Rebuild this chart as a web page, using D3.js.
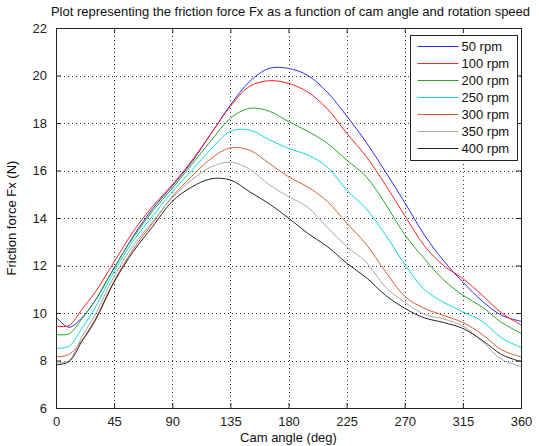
<!DOCTYPE html>
<html>
<head>
<meta charset="UTF-8">
<script src="https://cdn.jsdelivr.net/npm/d3@7"></script>
<style>
  body { margin: 0; background: #fff; }
  svg { font-family: "Liberation Sans", Arial, sans-serif; }
</style>
</head>
<body>
<div id="chart"></div>
<script>
const angles = [0, 10, 20, 30, 45, 60, 75, 90, 105, 120, 135, 150, 165, 180, 195, 210, 225, 240, 255, 270, 285, 300, 315, 330, 345, 360];
const speeds = ['50 rpm', '100 rpm', '200 rpm', '250 rpm', '300 rpm', '350 rpm', '400 rpm'];
const colors = ['#2b2bff', '#ff2020', '#22a822', '#10d8dc', '#d8602c', '#a8a8a8', '#262626'];
const rpm50  = [9.84, 9.4, 9.8, 10.5, 11.9, 13.25, 14.4, 15.35, 16.35, 17.55, 18.75, 19.75, 20.3, 20.3, 20.0, 19.3, 18.3, 17.2, 15.95, 14.65, 13.3, 12.2, 11.3, 10.5, 9.9, 9.65];
const rpm100 = [9.45, 9.47, 10.15, 10.85, 12.15, 13.45, 14.5, 15.4, 16.4, 17.55, 18.7, 19.55, 19.78, 19.67, 19.3, 18.6, 17.57, 16.6, 15.4, 14.1, 12.85, 12.0, 11.45, 10.75, 10.0, 9.5];
const rpm200 = [9.1, 9.12, 9.75, 10.5, 11.9, 13.2, 14.3, 15.25, 16.25, 17.25, 18.2, 18.62, 18.5, 18.06, 17.65, 17.15, 16.44, 15.75, 14.6, 13.3, 12.3, 11.4, 10.75, 10.25, 9.6, 9.15];
const rpm250 = [8.51, 8.6, 9.35, 10.2, 11.75, 13.05, 14.1, 15.1, 16.0, 16.9, 17.65, 17.7, 17.3, 16.93, 16.65, 16.15, 15.18, 14.4, 13.3, 12.05, 11.0, 10.45, 10.05, 9.65, 8.95, 8.55];
const rpm300 = [8.16, 8.25, 8.85, 9.7, 11.35, 12.7, 13.8, 14.9, 15.75, 16.5, 16.95, 16.85, 16.3, 15.74, 15.3, 14.7, 13.79, 12.9, 11.75, 10.7, 10.2, 9.9, 9.6, 9.1, 8.45, 8.15];
const rpm350 = [7.9, 8.0, 9.0, 9.9, 11.55, 12.85, 13.85, 14.85, 15.6, 16.15, 16.35, 16.05, 15.4, 14.9, 14.45, 13.6, 12.8, 12.15, 11.1, 10.45, 9.95, 9.75, 9.45, 8.8, 8.05, 7.75];
const rpm400 = [7.82, 7.95, 8.8, 9.65, 11.3, 12.6, 13.65, 14.7, 15.3, 15.65, 15.6, 15.1, 14.6, 14.0, 13.35, 12.8, 12.1, 11.5, 10.75, 10.2, 9.8, 9.6, 9.35, 8.85, 8.25, 7.95];
const series = [rpm50, rpm100, rpm200, rpm250, rpm300, rpm350, rpm400];
const xTicks = [0, 45, 90, 135, 180, 225, 270, 315, 360];
const yTicks = [6, 8, 10, 12, 14, 16, 18, 20, 22];

const W = 539, H = 446;
const m = { top: 28, right: 18, bottom: 38, left: 56 };
const w = W - m.left - m.right, h = H - m.top - m.bottom;
const FS = 13;

const svg = d3.select('#chart').append('svg').attr('width', W).attr('height', H);
const g = svg.append('g').attr('transform', `translate(${m.left},${m.top})`);

const x = d3.scaleLinear().domain([0, 360]).range([0, w]);
const y = d3.scaleLinear().domain([6, 22]).range([h, 0]);

// grid
g.append('g').selectAll('line').data(xTicks.slice(1, -1)).join('line')
  .attr('x1', d => Math.round(x(d)) + 0.5).attr('x2', d => Math.round(x(d)) + 0.5).attr('y1', 0).attr('y2', h)
  .attr('stroke', '#333').attr('stroke-dasharray', '1,3');
g.append('g').selectAll('line').data(yTicks.slice(1, -1)).join('line')
  .attr('y1', d => Math.round(y(d)) + 0.5).attr('y2', d => Math.round(y(d)) + 0.5).attr('x1', 0).attr('x2', w)
  .attr('stroke', '#333').attr('stroke-dasharray', '1,3');

// curves
const line = d3.line().x((d, i) => x(angles[i])).y(d => y(d)).curve(d3.curveCatmullRom);
g.append('g').selectAll('path').data(series).join('path')
  .attr('d', line).attr('fill', 'none').attr('stroke', (d, i) => colors[i]).attr('stroke-width', 1);

// axes (matlab box with inward ticks)
function styleAxis(sel) {
  sel.select('.domain').remove();
  sel.selectAll('text').attr('font-size', FS).attr('fill', '#222').attr('font-family', '"Liberation Sans", Arial, sans-serif');
  sel.selectAll('line').attr('stroke', '#222');
}
g.append('g').attr('transform', `translate(0,${h})`)
  .call(d3.axisBottom(x).tickValues(xTicks).tickSize(-5).tickPadding(9).tickFormat(d3.format('d'))).call(styleAxis);
g.append('g').call(d3.axisTop(x).tickValues(xTicks).tickSize(-5).tickFormat('')).call(styleAxis);
g.append('g').call(d3.axisLeft(y).tickValues(yTicks).tickSize(-5).tickPadding(9).tickFormat(d3.format('d'))).call(styleAxis);
g.append('g').attr('transform', `translate(${w},0)`)
  .call(d3.axisRight(y).tickValues(yTicks).tickSize(-5).tickFormat('')).call(styleAxis);
g.append('rect').attr('x', 0.5).attr('y', 0.5).attr('width', w).attr('height', h)
  .attr('fill', 'none').attr('stroke', '#222');

// labels
svg.append('text').attr('x', m.left + w / 2 + 2).attr('y', 16).attr('text-anchor', 'middle')
  .attr('font-size', FS).attr('fill', '#111')
  .text('Plot representing the friction force Fx as a function of cam angle and rotation speed');
svg.append('text').attr('x', m.left + w / 2).attr('y', 442).attr('text-anchor', 'middle')
  .attr('font-size', FS).attr('fill', '#111').text('Cam angle (deg)');
svg.append('text').attr('transform', `translate(16,${m.top + h / 2}) rotate(-90)`).attr('text-anchor', 'middle')
  .attr('font-size', FS).attr('fill', '#111').text('Friction force Fx (N)');

// legend
const lg = svg.append('g').attr('transform', 'translate(410.5,35.5)');
lg.append('rect').attr('width', 107).attr('height', 125).attr('fill', '#fff').attr('stroke', '#222');
const rows = lg.selectAll('g').data(speeds).join('g').attr('transform', (d, i) => `translate(0,${11 + i * 17})`);
rows.append('line').attr('x1', 7).attr('x2', 48).attr('stroke', (d, i) => colors[i]);
rows.append('text').attr('x', 51).attr('y', 4.5).attr('font-size', FS).attr('fill', '#111').text(d => d);
</script>
</body>
</html>
